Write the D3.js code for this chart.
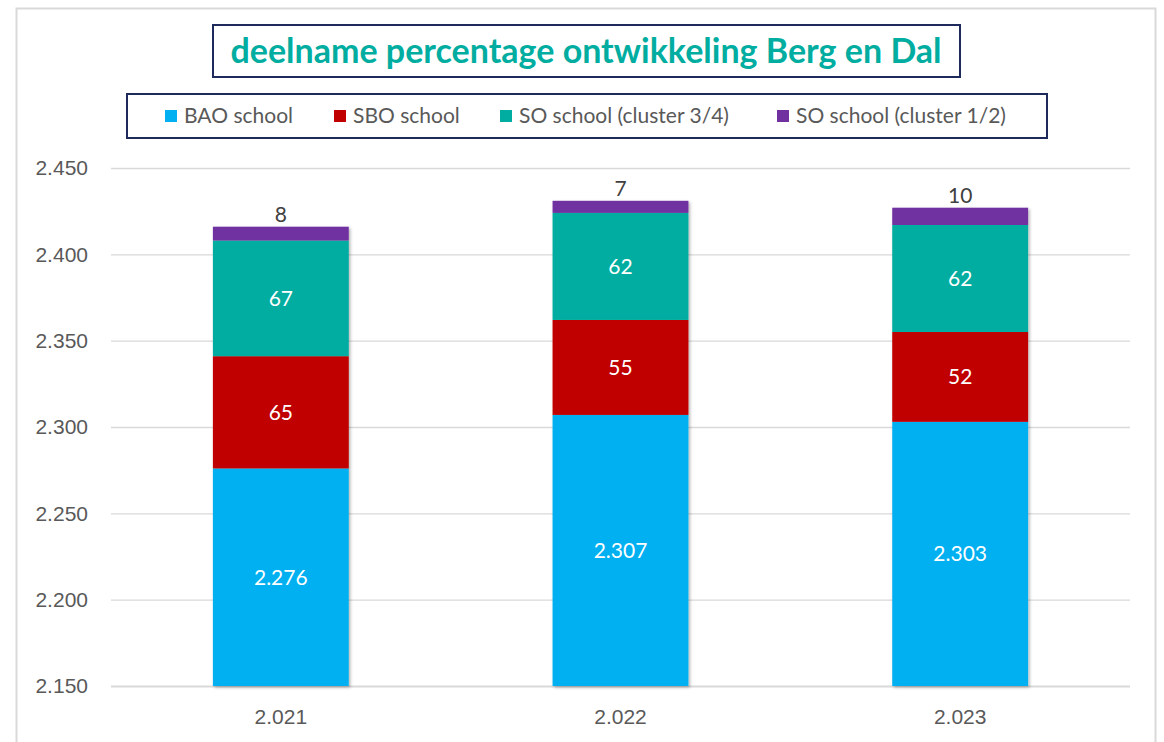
<!DOCTYPE html>
<html>
<head>
<meta charset="utf-8">
<script src="https://cdn.jsdelivr.net/npm/d3@7"></script>
<style>
  body { margin: 0; background: #fff; }
  svg { font-family: Lato, "Open Sans", sans-serif; }
</style>
</head>
<body>
<div id="chart"></div>
<script>
const YEARS = [2021, 2022, 2023];
const SERIES = ["BAO school", "SBO school", "SO school (cluster 3/4)", "SO school (cluster 1/2)"];
const COLORS = ["#00B0F0", "#C00000", "#00ADA0", "#7030A0"];
const BAO = [2276, 2307, 2303];
const SBO = [65, 55, 52];
const SO34 = [67, 62, 62];
const SO12 = [8, 7, 10];
const Y_TICKS = [2150, 2200, 2250, 2300, 2350, 2400, 2450];
const TITLE = "deelname percentage ontwikkeling Berg en Dal";

const nl = d3.formatLocale({ decimal: ",", thousands: ".", grouping: [3], currency: ["€", ""] });
const fmt = nl.format(",d");

const width = 1164, height = 742;
const plot = { left: 111, right: 1130, top: 168, bottom: 686 };

const svg = d3.select("#chart").append("svg")
    .attr("width", width)
    .attr("height", height);

const defs = svg.append("defs");
const f = defs.append("filter").attr("id", "shadow")
    .attr("x", "-10%").attr("y", "-10%").attr("width", "130%").attr("height", "130%");
f.append("feDropShadow").attr("dx", 1.5).attr("dy", 1.5).attr("stdDeviation", 1.5)
    .attr("flood-color", "#000").attr("flood-opacity", 0.3);

// outer chart frame
svg.append("rect")
    .attr("x", 16.5).attr("y", 8.5)
    .attr("width", 1139).attr("height", 760)
    .attr("fill", "none").attr("stroke", "#d9d9d9").attr("stroke-width", 2);

const table = YEARS.map((yr, i) => ({
    year: yr, "BAO school": BAO[i], "SBO school": SBO[i],
    "SO school (cluster 3/4)": SO34[i], "SO school (cluster 1/2)": SO12[i]
}));
const stacked = d3.stack().keys(SERIES)(table);

const x = d3.scaleBand().domain(YEARS).range([plot.left, plot.right]).paddingInner(0.6).paddingOuter(0.3);
const y = d3.scaleLinear().domain([2150, 2450]).range([plot.bottom, plot.top]);
const clampY = v => y(Math.max(2150, v));

// gridlines
svg.append("g")
    .selectAll("line")
    .data(Y_TICKS)
    .join("line")
    .attr("x1", plot.left).attr("x2", plot.right)
    .attr("y1", d => y(d) + 0.5).attr("y2", d => y(d) + 0.5)
    .attr("stroke", "#d9d9d9").attr("stroke-width", d => d === 2150 ? 2 : 1.3);

// y axis labels
svg.append("g")
    .attr("transform", `translate(${plot.left - 20},0)`)
    .call(d3.axisLeft(y).tickValues(Y_TICKS).tickFormat(fmt).tickSize(0))
    .call(g => g.select(".domain").remove())
    .selectAll("text")
    .attr("fill", "#595959")
    .style("font-size", "21px");

// x axis labels
svg.append("g")
    .attr("transform", `translate(0,${plot.bottom + 20})`)
    .call(d3.axisBottom(x).tickFormat(fmt).tickSize(0))
    .call(g => g.select(".domain").remove())
    .selectAll("text")
    .attr("fill", "#595959")
    .style("font-size", "21px");

// bars
const layers = svg.append("g").attr("filter", "url(#shadow)")
    .selectAll("g")
    .data(stacked)
    .join("g")
    .attr("fill", (d, i) => COLORS[i]);

layers.selectAll("rect")
    .data(d => d)
    .join("rect")
    .attr("x", d => x(d.data.year))
    .attr("width", x.bandwidth())
    .attr("y", d => y(d[1]))
    .attr("height", d => clampY(d[0]) - y(d[1]));

// labels inside segments
stacked.forEach((s, i) => {
    const last = i === stacked.length - 1;
    svg.append("g")
        .selectAll("text")
        .data(s)
        .join("text")
        .attr("x", d => x(d.data.year) + x.bandwidth() / 2)
        .attr("y", d => last ? y(d[1]) - 5 : (clampY(d[0]) + y(d[1])) / 2)
        .attr("dy", last ? 0 : "0.35em")
        .attr("text-anchor", "middle")
        .attr("fill", last ? "#404040" : "#fff")
        .style("font-size", "21px")
        .text(d => fmt(d[1] - d[0]));
});

// title box
const tg = svg.append("g");
tg.append("rect")
    .attr("x", 213).attr("y", 25)
    .attr("width", 747).attr("height", 52)
    .attr("fill", "#fff").attr("stroke", "#1F2A5C").attr("stroke-width", 2);
tg.append("text")
    .attr("x", 586).attr("y", 63)
    .attr("text-anchor", "middle")
    .attr("fill", "#00ADA0")
    .style("font-size", "34px")
    .style("font-weight", 700)
    .text(TITLE);

// legend box
svg.append("rect")
    .attr("x", 127).attr("y", 94)
    .attr("width", 920).attr("height", 44)
    .attr("fill", "#fff").attr("stroke", "#1F2A5C").attr("stroke-width", 2);

const LEG_X = [165, 334, 500, 777];
const leg = svg.append("g")
    .selectAll("g")
    .data(SERIES)
    .join("g")
    .attr("transform", (d, i) => `translate(${LEG_X[i]},116)`);
leg.append("rect")
    .attr("x", 0).attr("y", -6)
    .attr("width", 12).attr("height", 12)
    .attr("fill", (d, i) => COLORS[i]);
leg.append("text")
    .attr("x", 19).attr("dy", "0.35em")
    .attr("fill", "#595959")
    .style("font-size", "21px")
    .text(d => d);
</script>
</body>
</html>
